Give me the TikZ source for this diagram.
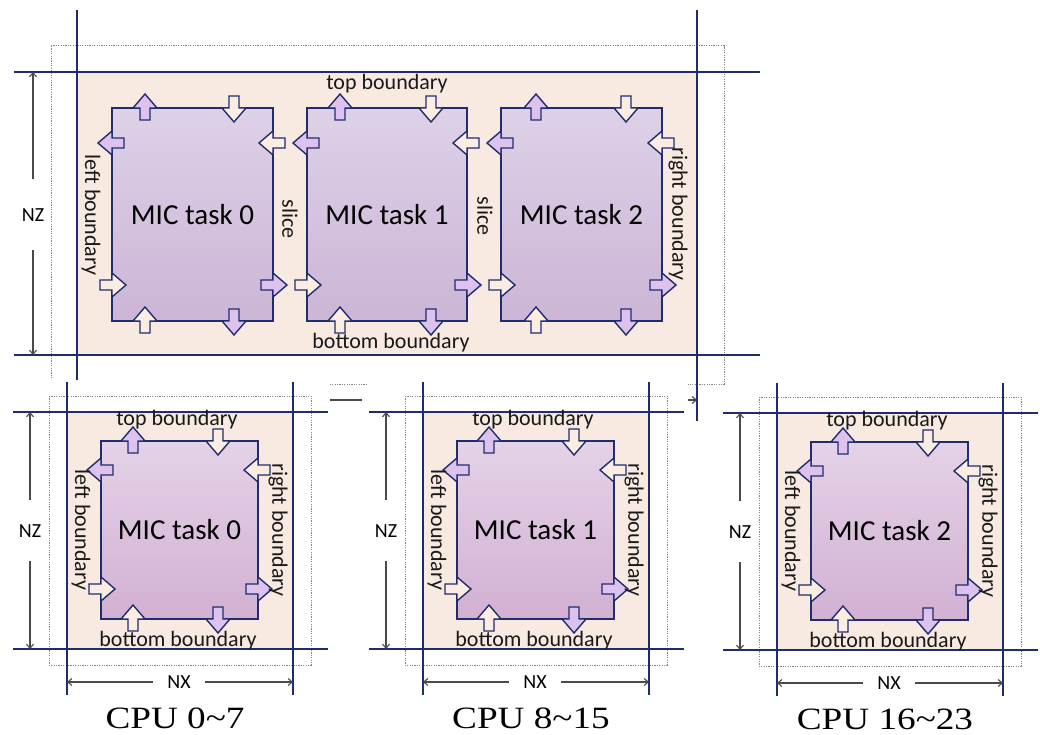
\documentclass[tikz,border=0pt]{standalone}
\usepackage{fontspec}
\setmainfont{Carlito}
\newfontfamily\timesf{Liberation Serif}
\usetikzlibrary{arrows.meta}
\definecolor{navy}{HTML}{1F2D6E}
\definecolor{peach}{HTML}{F8EAE1}
\definecolor{boxtopA}{HTML}{DDD1E7}
\definecolor{boxbotA}{HTML}{CCB5D6}
\definecolor{boxtopB}{HTML}{E4D2E7}
\definecolor{boxbotB}{HTML}{D2B0D3}
\definecolor{outc}{HTML}{DCC2EC}
\definecolor{inc}{HTML}{FBEDE1}
\definecolor{dimgray}{HTML}{4A4A4A}
\definecolor{dotgray}{HTML}{858585}
\tikzset{
  gridline/.style={draw=navy, line width=2.9pt},
  dotbox/.style={draw=dotgray, line width=1pt, dash pattern=on 1.2pt off 1.2pt},
  dimline/.style={draw=dimgray, line width=1.1pt, -{Straight Barb[length=4pt,width=7pt]}},
  dimlab/.style={font=\fontsize{20}{22}\selectfont, text=black, inner sep=0pt},
  lab/.style={font=\fontsize{22}{24}\selectfont, text=black!90, inner sep=0pt},
  micA/.style={draw=navy, line width=2pt, top color=boxtopA, bottom color=boxbotA,
    font=\fontsize{29}{31}\selectfont, text=black, inner sep=0pt},
  micB/.style={draw=navy, line width=2pt, top color=boxtopB, bottom color=boxbotB,
    font=\fontsize{29}{31}\selectfont, text=black, inner sep=0pt},
  blockarrow/.style={draw=navy, line width=1.4pt, line join=miter},
  cpulab/.style={font=\timesf\fontsize{31}{33}\selectfont, inner sep=0pt, anchor=base},
}
% block arrow: head base centred at (#1,#2), direction #3, fill #4
\newcommand\barr[4]{\draw[blockarrow, fill=#4, shift={(#1,#2)}, rotate=#3]
  (-12,-5) -- (0,-5) -- (0,-12) -- (14,0) -- (0,12) -- (0,5) -- (-12,5) -- cycle;}
% the eight arrows of one task box: L T R B, side offsets a b, top/bottom offsets u d
\newcommand\boxarrows[8]{%
  \barr{#1+#7}{#2}{90}{outc}\barr{#3-#8}{#2}{-90}{inc}%
  \barr{#1}{#2+#5}{180}{outc}\barr{#1}{#4-#6}{0}{inc}%
  \barr{#3}{#2+#5}{180}{inc}\barr{#3}{#4-#6}{0}{outc}%
  \barr{#1+#7}{#4}{90}{inc}\barr{#3-#8}{#4}{-90}{outc}}
\newcommand\cpupanel[4]{%
\begin{scope}[shift={(#1,#2)}]
  \fill[peach] (67,412) rectangle (293,649);
  \draw[dotbox] (49,396) rectangle (311,665);
  \draw[gridline] (13,412) -- (328,412);
  \draw[gridline] (13,649) -- (328,649);
  \draw[gridline] (67,382) -- (67,695);
  \draw[gridline] (293,382) -- (293,695);
  \node[dimlab] (nz#3) at (30,531) {NZ};
  \coordinate (nzt#3) at (30,412);
  \coordinate (nzb#3) at (30,649);
  \draw[dimline] (30,500) -- (nzt#3);
  \draw[dimline] (30,561) -- (nzb#3);
  \node[dimlab] (nx#3) at (179,682) {NX};
  \coordinate (nxl#3) at (67,682);
  \coordinate (nxr#3) at (293,682);
  \draw[dimline] (153,682) -- (nxl#3);
  \draw[dimline] (205,682) -- (nxr#3);
  \node[micB, minimum width=157pt, minimum height=178pt] (b#3) at (179.5,530) {MIC task #3};
  \boxarrows{101}{441}{258}{619}{29}{30}{32}{40}
  \node[lab] (bt#3) at (177,420) {top boundary};
  \node[lab] (bb#3) at (178,641) {bottom boundary};
  \node[lab, rotate=-90] (bl#3) at (81,530) {left boundary};
  \node[lab, rotate=-90] (br#3) at (278,530) {right boundary};
  \node[cpulab] (cpu#3) at (175,728) {\scalebox{1.2}[1]{#4}};
\end{scope}}
\begin{document}
\begin{tikzpicture}[x=1pt,y=-1pt]
\useasboundingbox (0,0) rectangle (1040,735);
\fill[white] (0,0) rectangle (1040,735);
% ---------- top panel ----------
\fill[peach] (77,72) rectangle (697,355);
\draw[dotbox] (51,46) rectangle (724,384);
\draw[gridline] (14,72) -- (760,72);
\draw[gridline] (14,355) -- (760,355);
\draw[gridline] (77,10) -- (77,392);
\draw[gridline] (697,10) -- (697,421);
\node[dimlab] (nzT) at (33,215) {NZ};
\coordinate (nzTt) at (33,72);
\coordinate (nzTb) at (33,355);
\draw[dimline] (33,179) -- (nzTt);
\draw[dimline] (33,250) -- (nzTb);
\coordinate (nxTl) at (77,400);
\coordinate (nxTr) at (697,400);
\draw[dimline] (362,400) -- (nxTl);
\draw[dimline] (412,400) -- (nxTr);
\node[micA, minimum width=161pt, minimum height=213pt] (t0) at (192.5,214.5) {MIC task 0};
\node[micA, minimum width=160pt, minimum height=213pt] (t1) at (387,214.5) {MIC task 1};
\node[micA, minimum width=161pt, minimum height=213pt] (t2) at (581.5,214.5) {MIC task 2};
\boxarrows{112}{108}{273}{321}{35}{36}{33}{39}
\boxarrows{307}{108}{467}{321}{35}{36}{33}{36}
\boxarrows{501}{108}{662}{321}{35}{36}{35}{36}
\node[lab] (tT) at (387,84) {top boundary};
\node[lab] (bT) at (391,343) {bottom boundary};
\node[lab, rotate=-90] (lT) at (91,215) {left boundary};
\node[lab, rotate=-90] (s1) at (290,219) {slice};
\node[lab, rotate=-90] (s2) at (485,216) {slice};
\node[lab, rotate=-90] (rT) at (678,214) {right boundary};
% ---------- cut-outs of the lower panels ----------
\fill[white] (0,380) rectangle (330,735);
\fill[white] (368,381) rectangle (688,735);
% ---------- lower panels ----------
\cpupanel{0}{0}{0}{CPU 0\textasciitilde 7}
\cpupanel{356}{0}{1}{CPU 8\textasciitilde 15}
\cpupanel{710}{1}{2}{CPU 16\textasciitilde 23}
\end{tikzpicture}
\end{document}
